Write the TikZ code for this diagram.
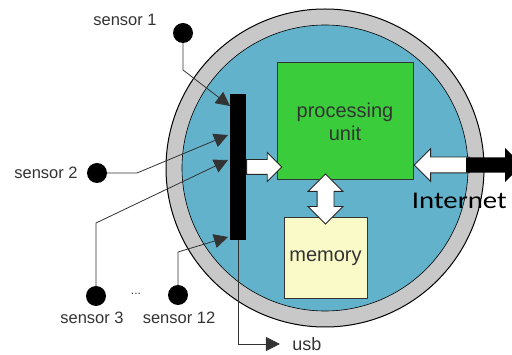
\documentclass[tikz,border=0pt]{standalone}
\usepackage{fontspec}
\setmainfont{Liberation Sans}
\newfontfamily\calfont{Carlito}
\usetikzlibrary{arrows.meta,shapes.arrows,calc}

\definecolor{ringgray}{RGB}{200,200,200}
\definecolor{housing}{RGB}{98,178,204}
\definecolor{cpugreen}{RGB}{58,204,58}
\definecolor{memyellow}{RGB}{250,250,200}
\definecolor{labelgray}{RGB}{51,51,51}

\begin{document}
\begin{tikzpicture}[x=1pt, y=-1pt,
    lbl/.style={text=labelgray, font=\fontsize{16.5}{18}\selectfont},
    dot/.style={circle, fill=black, minimum size=20pt, inner sep=0pt},
    sig/.style={draw=labelgray, line width=0.8pt, -{Triangle[length=14pt, width=14pt]}},
    unit/.style={draw=black!80, line width=1pt, text=black!80, align=center, font=\fontsize{20}{23}\selectfont},
    fat/.style={draw=black!85, fill=white, line width=0.9pt, inner xsep=0pt}]
    \useasboundingbox (0,0) rectangle (512,355);

    \draw[fill=ringgray, line width=1pt] (325,168) circle (159);
    \draw[fill=housing, line width=0.6pt] (325,168) circle (143);

    \node[unit, fill=cpugreen, minimum width=136pt, minimum height=117pt] (pu) at (345,121.5) {processing\\unit};
    \node[unit, fill=memyellow, minimum width=83pt, minimum height=81pt] (mem) at (325.5,258.5) {memory};
    \node[fill=black, minimum width=16pt, minimum height=146pt, inner sep=0pt] (bus) at (238,167) {};

    \node[single arrow, fat, anchor=tail, inner ysep=7pt, minimum height=35pt, single arrow head extend=7pt] (busarrow) at (bus.east) {};
    \node[double arrow, fat, rotate=90, inner ysep=8pt, minimum height=50pt, double arrow head extend=9pt] (memarrow) at ($(mem.north)!0.5!(mem.north |- pu.south)$) {};

    \coordinate (netline) at (466,165);
    \node[single arrow, fat, shape border rotate=180, anchor=tip, inner ysep=7.5pt, minimum height=55pt, single arrow head extend=8.5pt] (netin) at (pu.east |- netline) {};
    \node[single arrow, fill=black, inner xsep=0pt, inner ysep=7.5pt, anchor=tail, minimum height=56pt, single arrow head extend=9.5pt] (netout) at (netline) {};
    \node[font=\calfont\fontsize{24}{28}\selectfont, xscale=1.2, anchor=east] (net) at (511,201) {Internet};

    \node[dot] (s1) at (183,33) {};
    \node[lbl] (s1lbl) at (125,20) {sensor 1};
    \node[dot] (s2) at (97,173) {};
    \node[lbl] (s2lbl) at (46,173) {sensor 2};
    \node[dot] (s3) at (96,296) {};
    \node[lbl] (s3lbl) at (92,318) {sensor 3};
    \node[dot] (s12) at (178,295) {};
    \node[lbl] (s12lbl) at (179,318) {sensor 12};
    \node[text=labelgray, font=\fontsize{12}{14}\selectfont] (more) at (136,294) {...};

    \coordinate (t1) at (230,106);
    \coordinate (t2) at (228,135);
    \coordinate (t3) at (228,160);
    \coordinate (t4) at (228,237);
    \draw[sig] (s1) -- (183,70) -- (t1);
    \draw[sig] (s2) -- (137,173) -- (t2);
    \draw[sig] (s3) -- (96,223) -- (t3);
    \draw[sig] (s12) -- (178,252) -- (t4);

    \node[lbl, font=\fontsize{18}{20}\selectfont] (usb) at (307,344) {usb};
    \draw[sig, shorten >=9pt] (bus.south) |- (usb.west);
\end{tikzpicture}
\end{document}
